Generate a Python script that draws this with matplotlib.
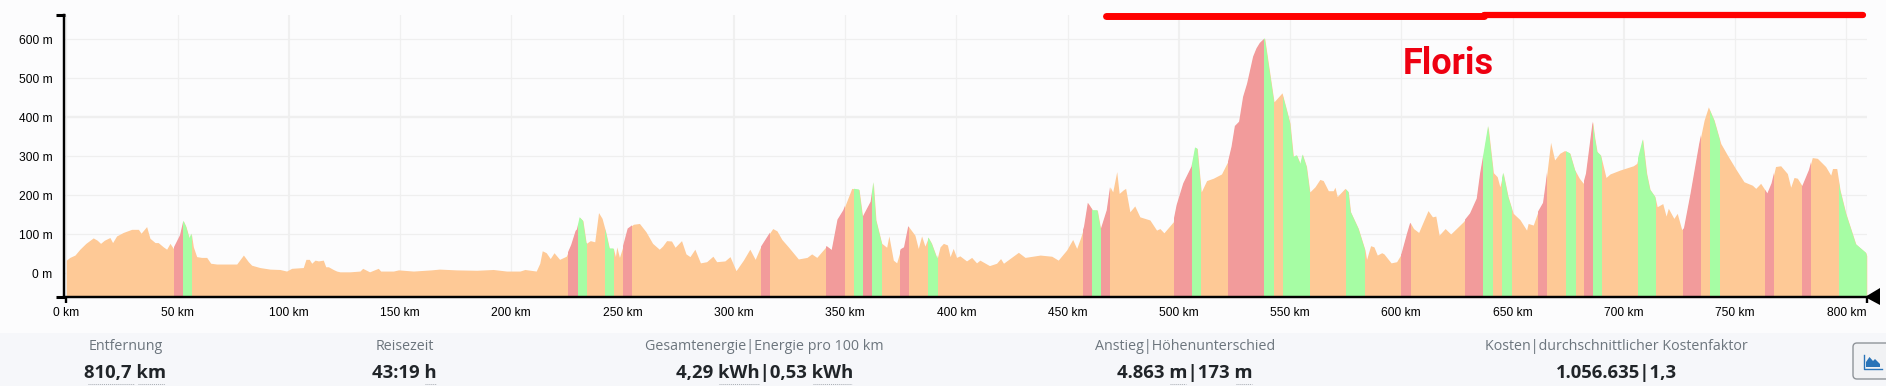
import numpy as np
from matplotlib import pyplot as plt
from matplotlib.patches import FancyBboxPatch, Polygon
from matplotlib.lines import Line2D
from matplotlib.transforms import IdentityTransform

# Hoehenprofil: Strecke in km, Hoehe in m
km = [0, 1.6, 3.9, 6.1, 8.8, 12.1, 13.9, 15.4, 17.1, 19.6, 20.8, 22.6, 25.6, 29.4, 32.4, 33.6, 36.1, 37.6, 39.9, 41.3,
      43.6, 45.1, 46.6, 48.1, 51.1, 52.6, 53.8, 55.3, 56.2, 57.1, 58.6, 60.8, 63.1, 64.9, 67.6, 73.6, 76.6, 79.6, 81.8, 83.3,
      87, 91.5, 96, 99, 101.3, 106.5, 107.7, 109.2, 110.3, 111.8, 113.3, 115.5, 116.6, 117.8, 120, 121.5, 123, 127.5, 132, 133.2,
      136.3, 140.2, 141.3, 147, 149.3, 156, 164, 167.7, 175.4, 184.4, 191.9, 197.9, 203.9, 206.1, 211.2, 212.8, 213.9, 215.7, 217.5, 219.2,
      221.7, 224.7, 226.9, 228.9, 229.5, 230.7, 232.2, 233.7, 235.5, 237.5, 239.2, 240.8, 242.6, 244.1, 245.9, 246.8, 247.4, 248.6, 250.1, 252.3,
      254.9, 257.6, 260.5, 263.5, 266.5, 268, 269.8, 272, 273.6, 276.5, 278.5, 280.3, 282.5, 285, 287.8, 290.6, 292.3, 296, 298.3, 301,
      304.3, 307.2, 309.6, 311.7, 315.5, 317.5, 319.4, 321.6, 324.5, 329, 332.9, 335, 337.3, 341.7, 344, 346.6, 349.2, 353, 356.3, 357.9,
      361.5, 362.7, 363.9, 366.5, 368.7, 369.7, 371.7, 373.2, 375, 376.5, 378.4, 381.4, 382.9, 384.4, 385.9, 387.4, 388.9, 391.4, 392.7, 394.2,
      396, 397.2, 398.6, 400.1, 401.6, 404.6, 406.9, 409.1, 410.6, 414.9, 418.1, 419.9, 421.2, 427.9, 430.9, 437.7, 442.9, 445.8, 449.6, 452.3,
      454.1, 455.9, 457.4, 459.1, 461.3, 463.4, 464.9, 467.6, 469.1, 470.3, 472.1, 473.2, 475, 476.1, 478, 480.2, 482.5, 487, 490, 491.5,
      493.3, 497.5, 499, 502, 505.7, 507.3, 508.3, 510.1, 512.5, 515.5, 519.2, 522.2, 523.7, 525.2, 527.1, 528.9, 530.7, 533.4, 534.9, 536.4,
      538.6, 542.8, 546.4, 548.1, 550, 551.5, 553, 554.6, 555.6, 557.4, 558.9, 561.2, 563.4, 564.9, 567.2, 569.4, 570.2, 571.2, 574.7, 576.2,
      577.2, 580.7, 583.7, 584.4, 586.2, 587.7, 589.2, 591.2, 592.2, 595.4, 597.9, 600.1, 602.6, 604, 605.5, 607.8, 612, 614, 615.5, 617,
      619.7, 622.2, 627.8, 630.9, 633.9, 635.4, 637.2, 639, 641.4, 643.1, 644.3, 645.8, 648, 650.3, 653.3, 656.3, 657, 659.3, 661.4, 663.7,
      664.9, 667.1, 668.9, 671.2, 673.4, 675.8, 678, 680, 681.8, 683, 686, 687, 688, 689.6, 692, 693.8, 698.3, 704.3, 705.8, 708.5,
      710.3, 711.8, 714, 715, 717.5, 719, 720, 722.5, 724, 726, 727, 730, 733.9, 736.1, 738, 740.6, 743.6, 746.6, 750.3, 754,
      757.8, 759.3, 761.5, 764.5, 766.4, 768.2, 770.5, 773.5, 775, 776.5, 778, 780.2, 783.2, 784.7, 787, 790.7, 793, 793.8, 795.7, 797.2,
      799.8, 804.3, 808.8, 809.2]
elev = [34, 41, 47, 62, 77, 91, 85, 77, 85, 92, 79, 96, 105, 113, 113, 103, 120, 90, 79, 79,
        68, 62, 77, 64, 98, 135, 120, 90, 102, 68, 43, 41, 41, 26, 24, 24, 24, 47, 30, 21,
        15, 11, 10, 6, 13, 15, 36, 36, 26, 34, 32, 34, 17, 17, 10, 6, 4, 4, 6, 13,
        4, 13, 6, 6, 9, 6, 9, 11, 9, 8, 10, 6, 6, 10, 6, 26, 58, 53, 38, 53,
        36, 44, 73, 109, 113, 144, 135, 77, 84, 81, 156, 141, 103, 64, 64, 43, 68, 41, 68, 115,
        126, 128, 107, 77, 62, 70, 84, 83, 67, 84, 50, 43, 62, 27, 30, 44, 30, 32, 43, 7,
        34, 62, 36, 64, 98, 115, 109, 87, 68, 37, 41, 50, 41, 70, 60, 138, 162, 218, 215, 145,
        184, 234, 137, 77, 67, 96, 34, 27, 62, 67, 121, 98, 64, 96, 70, 92, 77, 38, 68, 77,
        73, 43, 64, 41, 45, 32, 41, 27, 34, 20, 26, 38, 26, 54, 41, 47, 44, 34, 60, 87,
        64, 92, 120, 181, 162, 162, 113, 162, 222, 209, 261, 205, 214, 218, 158, 173, 145, 137, 111, 115,
        104, 132, 175, 231, 274, 323, 320, 209, 238, 244, 255, 289, 325, 378, 389, 453, 487, 556, 577, 591,
        603, 440, 463, 427, 385, 299, 303, 281, 305, 274, 209, 222, 241, 238, 212, 212, 221, 197, 218, 209,
        158, 115, 60, 36, 71, 68, 47, 53, 50, 27, 30, 51, 103, 130, 115, 105, 161, 145, 147, 98,
        115, 101, 132, 154, 192, 256, 316, 378, 258, 248, 222, 258, 197, 154, 138, 111, 128, 124, 158, 181,
        231, 336, 291, 308, 315, 308, 265, 244, 231, 256, 389, 346, 312, 303, 246, 255, 265, 276, 282, 344,
        256, 215, 197, 171, 179, 147, 167, 141, 154, 113, 115, 205, 333, 393, 427, 393, 333, 303, 268, 235,
        226, 218, 231, 205, 231, 274, 276, 256, 221, 246, 244, 224, 265, 297, 295, 274, 252, 269, 269, 214,
        154, 75, 53, 45]

# Steigungsabschnitte (von km, bis km)
rot = [(48.4, 52.4), (225.5, 229.9), (250.3, 254.3), (312.2, 316.2), (341.6, 349.9), (358.1, 362.2),
       (374.5, 378.7), (456.8, 461), (464.9, 469.1), (497.8, 505.8), (522, 538.3), (600, 604.4),
       (628.6, 636.9), (661.4, 665.6), (682, 686.2), (726.8, 734.9), (763.5, 767.6), (780.1, 784)]
gruen = [(52.4, 56.5), (229.9, 234.2), (242, 246.1), (354, 358.1), (362.2, 366.7), (387.3, 391.6),
         (461, 464.9), (505.8, 510.1), (538.3, 542.6), (546.8, 558.9), (575, 583.6), (636.9, 641),
         (645.2, 649.6), (673.9, 678.3), (686.2, 690.4), (706.4, 714.5), (738.9, 743.4), (796.7, 809.3)]

x_ticks = [0, 50, 100, 150, 200, 250, 300, 350, 400, 450, 500, 550, 600, 650, 700, 750, 800]
y_ticks = [0, 100, 200, 300, 400, 500, 600]
x_dick = [100, 300, 500, 700]
y_dick = [400]

labels = ['Entfernung', 'Reisezeit', 'Gesamtenergie|Energie pro 100 km', 'Anstieg|Höhenunterschied',
          'Kosten|durchschnittlicher Kostenfaktor']
werte = ['810,7 km', '43:19 h', '4,29 kWh|0,53 kWh', '4.863 m|173 m', '1.056.635|1,3']

W, H = 1886, 386
BG = '#fcfcfd'


def fx(x):
    return x / W


def fy(y):
    return 1 - y / H


fig = plt.figure(figsize=(W / 100, H / 100), dpi=100, facecolor=BG)
# untere Leiste
fig.add_artist(plt.Rectangle((0, 0), 1, fy(333), transform=fig.transFigure, color='#f6f7fa', lw=0, zorder=-1))

ax = fig.add_axes([fx(64.3), fy(297.3), fx(1867 - 64.3), fy(15) - fy(297.3)])
ax.set_facecolor(BG)
ax.set_xlim(-0.9, 809.3)
ax.set_ylim(-61.3, 662.6)

for t in x_ticks:
    ax.axvline(t, color='#f0f0f0', lw=1.5 if t in x_dick else 0.9, zorder=1)
for t in y_ticks:
    ax.axhline(t, color='#efefef', lw=1.7 if t in y_dick else 0.9, zorder=1)

area = ax.fill_between(km, elev, -61.3, color='#fec996', lw=0, zorder=2)
clip = area.get_paths()[0]
for a, b in rot:
    s = ax.axvspan(a, b, color='#f29b9b', lw=0, zorder=3)
    s.set_clip_path(clip, area.get_transform())
for a, b in gruen:
    s = ax.axvspan(a, b, color='#a6fda4', lw=0, zorder=3)
    s.set_clip_path(clip, area.get_transform())

ax.set_xticks(x_ticks)
ax.set_xticklabels([f'{t} km' for t in x_ticks], family='Liberation Sans', fontsize=8.64)
ax.set_yticks(y_ticks)
ax.set_yticklabels([f'{t} m' for t in y_ticks], family='Liberation Sans', fontsize=8.64)
ax.tick_params(axis='x', length=0, pad=6.7)
ax.tick_params(axis='y', length=0, pad=8.5)
ax.spines['top'].set_visible(False)
ax.spines['right'].set_visible(False)
ax.spines['left'].set_linewidth(1.75)
ax.spines['bottom'].set_linewidth(1.75)
for s in ax.spines.values():
    s.set_zorder(5)

# rote Markierung und Name
ax.plot([467.5, 637.1], [659, 659], color='#ff0000', lw=5, solid_capstyle='round', clip_on=False, zorder=6)
ax.plot([637.1, 807.6], [662, 662], color='#ff0000', lw=4.5, solid_capstyle='round', clip_on=False, zorder=6)
ax.text(621, 537, 'Floris', color='#ee0011', fontsize=26, fontweight='bold', family='Roboto',
        ha='center', va='center', zorder=6)


# Achsen-Stummel und Pfeil
def linie(xs, ys, **kw):
    fig.add_artist(Line2D([fx(v) for v in xs], [fy(v) for v in ys], transform=fig.transFigure, **kw))


linie([56, 65], [15, 15], color='black', lw=2.2, solid_capstyle='butt')
linie([56, 65], [297.3, 297.3], color='black', lw=2.2, solid_capstyle='butt')
linie([66.3, 66.3], [297, 303], color='black', lw=1.7, solid_capstyle='butt')
linie([1867, 1867], [297, 303], color='black', lw=1.7, solid_capstyle='butt')
fig.add_artist(Polygon([(fx(1865), fy(297)), (fx(1880), fy(288)), (fx(1880), fy(305))],
                       transform=fig.transFigure, color='black', lw=0))

# Kennzahlen unten
label_x = [125.5, 404.8, 764.8, 1185, 1616]
for x, l, v in zip(label_x, labels, werte):
    fig.text(fx(x), fy(347), l, color='#6c757d', fontsize=10.3, family='Open Sans', ha='center', va='center')
    fig.text(fx(x), fy(373.5), v, color='#212529', fontsize=13.3, fontweight='bold', family='Open Sans',
             ha='center', va='center')

punkte = [(87.6, 134), (138, 165), (425, 436), (719, 758.6), (813, 852), (1170, 1186), (1236, 1252)]
for a, b in punkte:
    linie([a, b], [384, 384], color='#a8adb3', lw=0.7, ls=(0, (1, 1)))

# Knopf rechts unten
fig.add_artist(FancyBboxPatch((1853, H - 379), 40, 36, boxstyle='round,pad=0,rounding_size=4',
                              transform=IdentityTransform(), fc='#f1f2f4', ec='#8f9499', lw=1))
fig.add_artist(Polygon([(fx(1866), fy(367)), (fx(1866), fy(362)), (fx(1869.5), fy(357)), (fx(1873), fy(361)),
                        (fx(1875), fy(359)), (fx(1880), fy(364)), (fx(1880), fy(367))],
                       transform=fig.transFigure, color='#2a74b8', lw=0))
linie([1863.5, 1863.5, 1882], [355, 368.5, 368.5], color='#2a74b8', lw=1)

plt.savefig('out.png', dpi=100, facecolor=fig.get_facecolor())
